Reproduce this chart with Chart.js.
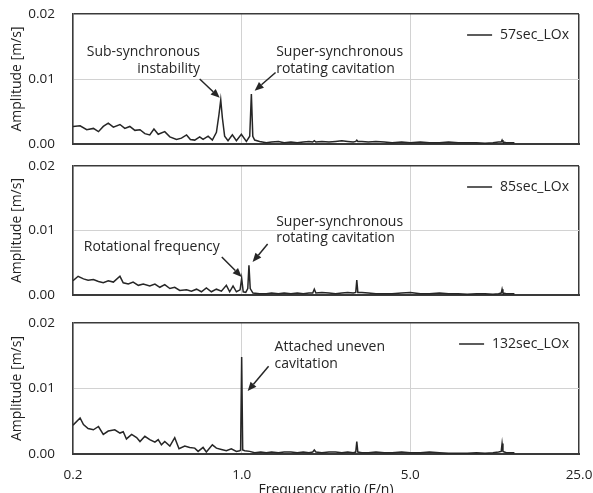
<!DOCTYPE html>
<html>
<head>
<meta charset="utf-8">
<title>Amplitude spectra</title>
<script src="https://cdn.jsdelivr.net/npm/chart.js@4.4.0/dist/chart.umd.min.js"></script>
<style>
    html, body { margin: 0; padding: 0; width: 593px; height: 493px; overflow: hidden; background: #fff; }
    .panel { position: absolute; left: 0; width: 593px; }
    #p1 { top: 0; height: 150px; }
    #p2 { top: 152px; height: 150px; }
    #p3 { top: 306px; height: 200px; }
</style>
</head>
<body>
<div class="panel" id="p1"><canvas id="c1"></canvas></div>
<div class="panel" id="p2"><canvas id="c2"></canvas></div>
<div class="panel" id="p3"><canvas id="c3"></canvas></div>
<script>
// axis ticks
const xTicks = [0.2, 1, 5, 25];
const yTicks = [0, 0.01, 0.02];

// shared high-frequency sampling (F/n)
const freqHigh = [1.33, 1.42, 1.5, 1.6, 1.7, 1.8, 1.9, 1.97, 2.0, 2.03, 2.15, 2.3, 2.45, 2.6, 2.75, 2.9, 2.97, 3.0, 3.03, 3.15, 3.35, 3.6, 3.9, 4.2, 4.6, 5.0, 5.5, 6.0, 6.6, 7.2, 7.9, 8.6, 9.4, 10.2, 11.0, 11.6, 11.9, 12.0, 12.1, 12.5, 13.0, 13.5];

// 57 sec
const freq57 = [0.2, 0.214, 0.228, 0.243, 0.255, 0.267, 0.28, 0.294, 0.313, 0.328, 0.344, 0.361, 0.379, 0.397, 0.416, 0.433, 0.451, 0.48, 0.504, 0.537, 0.563, 0.591, 0.613, 0.639, 0.67, 0.692, 0.726, 0.756, 0.786, 0.805, 0.819, 0.832, 0.85, 0.878, 0.915, 0.951, 0.997, 1.046, 1.08, 1.097, 1.112, 1.132, 1.187, 1.265].concat(freqHigh);
const amp57 = [0.0027, 0.0028, 0.0022, 0.0024, 0.0019, 0.0027, 0.0032, 0.0026, 0.003, 0.0024, 0.0027, 0.0021, 0.0022, 0.0016, 0.0014, 0.0023, 0.0015, 0.0019, 0.0011, 0.0007, 0.0009, 0.0014, 0.0007, 0.0006, 0.0011, 0.0007, 0.0012, 0.0006, 0.0018, 0.0045, 0.0068, 0.004, 0.0012, 0.0005, 0.0014, 0.0005, 0.0015, 0.0004, 0.0012, 0.0077, 0.0012, 0.0006, 0.0004, 0.0002,
    0.0003, 0.0004, 0.0002, 0.0003, 0.0002, 0.0003, 0.0004, 0.0003, 0.0005, 0.0003, 0.0004, 0.0003, 0.0004, 0.0005, 0.0004, 0.0003, 0.0004, 0.0006, 0.0004, 0.0004, 0.0003, 0.0004, 0.0003, 0.0002, 0.0003, 0.0002, 0.0003, 0.0002, 0.0002, 0.0003, 0.0002, 0.0002, 0.0002, 0.0001, 0.0002, 0.0003, 0.0003, 0.0006, 0.0003, 0.0002, 0.0002, 0.0002];

// 85 sec
const freq85 = [0.2, 0.21, 0.221, 0.231, 0.243, 0.255, 0.267, 0.28, 0.294, 0.313, 0.323, 0.339, 0.355, 0.373, 0.391, 0.416, 0.437, 0.458, 0.48, 0.504, 0.528, 0.554, 0.591, 0.619, 0.65, 0.681, 0.714, 0.749, 0.786, 0.824, 0.864, 0.892, 0.921, 0.951, 0.985, 1.0, 1.015, 1.04, 1.06, 1.072, 1.085, 1.114, 1.187, 1.265].concat(freqHigh);
const amp85 = [0.0022, 0.0029, 0.0025, 0.0023, 0.0024, 0.0021, 0.0019, 0.0022, 0.002, 0.0029, 0.0019, 0.0017, 0.002, 0.0015, 0.0017, 0.0014, 0.0017, 0.0012, 0.0016, 0.001, 0.0012, 0.0007, 0.0008, 0.0006, 0.0009, 0.0005, 0.0011, 0.0005, 0.0009, 0.0006, 0.0015, 0.0005, 0.0014, 0.0005, 0.0008, 0.0026, 0.0005, 0.0004, 0.001, 0.0046, 0.001, 0.0003, 0.0002, 0.0002,
    0.0003, 0.0002, 0.0003, 0.0002, 0.0003, 0.0002, 0.0003, 0.0003, 0.0009, 0.0003, 0.0004, 0.0003, 0.0002, 0.0003, 0.0004, 0.0003, 0.0004, 0.0023, 0.0004, 0.0004, 0.0003, 0.0002, 0.0002, 0.0002, 0.0003, 0.0004, 0.0002, 0.0002, 0.0003, 0.0002, 0.0002, 0.0001, 0.0002, 0.0002, 0.0001, 0.0002, 0.0003, 0.0009, 0.0003, 0.0002, 0.0002, 0.0002];

// 132 sec
const freq132 = [0.2, 0.214, 0.221, 0.231, 0.243, 0.255, 0.267, 0.28, 0.298, 0.313, 0.323, 0.333, 0.35, 0.367, 0.379, 0.397, 0.416, 0.437, 0.451, 0.465, 0.48, 0.504, 0.528, 0.55, 0.581, 0.609, 0.639, 0.66, 0.692, 0.714, 0.756, 0.786, 0.824, 0.864, 0.906, 0.951, 0.981, 0.99, 1.0, 1.01, 1.03, 1.08, 1.132, 1.2, 1.265].concat(freqHigh);
const amp132 = [0.0044, 0.0055, 0.0045, 0.0039, 0.0037, 0.0042, 0.003, 0.0035, 0.0037, 0.0032, 0.0034, 0.0023, 0.003, 0.0025, 0.0019, 0.0027, 0.0022, 0.0018, 0.0022, 0.0014, 0.0019, 0.0012, 0.0025, 0.0008, 0.0012, 0.001, 0.0009, 0.0004, 0.001, 0.0003, 0.0014, 0.0009, 0.0007, 0.0005, 0.0008, 0.0004, 0.0005, 0.0006, 0.0148, 0.0006, 0.0005, 0.0004, 0.0002, 0.0003, 0.0002,
    0.0003, 0.0002, 0.0003, 0.0003, 0.0002, 0.0003, 0.0002, 0.0003, 0.0006, 0.0003, 0.0002, 0.0003, 0.0003, 0.0002, 0.0003, 0.0002, 0.0003, 0.0019, 0.0003, 0.0002, 0.0002, 0.0003, 0.0002, 0.0002, 0.0003, 0.0002, 0.0002, 0.0003, 0.0002, 0.0001, 0.0001, 0.0001, 0.0002, 0.0001, 0.0002, 0.0003, 0.0004, 0.0016, 0.0004, 0.0002, 0.0002, 0.0002];

// annotation text (data coords) and arrows (tail -> tip, data coords)
const notes57 = [
    {text: 'Sub-synchronous', f: 0.672, a: 0.0141, align: 'right'},
    {text: 'instability', f: 0.672, a: 0.0116, align: 'right'},
    {text: 'Super-synchronous', f: 1.39, a: 0.0141, align: 'left'},
    {text: 'rotating cavitation', f: 1.39, a: 0.0116, align: 'left'}
];
const arrows57 = [
    {f0: 0.67, a0: 0.0100, f1: 0.811, a1: 0.0071},
    {f0: 1.382, a0: 0.0110, f1: 1.132, a1: 0.0082}
];
const notes85 = [
    {text: 'Rotational frequency', f: 0.811, a: 0.0074, align: 'right'},
    {text: 'Super-synchronous', f: 1.39, a: 0.0113, align: 'left'},
    {text: 'rotating cavitation', f: 1.39, a: 0.0088, align: 'left'}
];
const arrows85 = [
    {f0: 0.827, a0: 0.0059, f1: 1.0, a1: 0.0028},
    {f0: 1.281, a0: 0.0079, f1: 1.11, a1: 0.0051}
];
const notes132 = [
    {text: 'Attached uneven', f: 1.369, a: 0.0163, align: 'left'},
    {text: 'cavitation', f: 1.369, a: 0.0137, align: 'left'}
];
const arrows132 = [
    {f0: 1.293, a0: 0.0134, f1: 1.059, a1: 0.0096}
];

Chart.defaults.font.family = '"Open Sans", sans-serif';
Chart.defaults.color = '#222';

const INK = '#262626';
const GRID = '#d2d2d2';
const FRAME = '#3a3a3a';
const TEXT_FONT = '14px "Open Sans"';

// draws the callouts and a legend entry in the top right of the plot
const notePlugin = {
    id: 'notes',
    afterDatasetsDraw(chart, args, opts) {
        const {ctx, chartArea, scales: {x, y}} = chart;
        ctx.save();
        ctx.fillStyle = INK;
        ctx.strokeStyle = INK;
        ctx.font = TEXT_FONT;
        ctx.textBaseline = 'middle';
        (opts.texts || []).forEach(t => {
            ctx.textAlign = t.align;
            ctx.fillText(t.text, x.getPixelForValue(t.f), y.getPixelForValue(t.a));
        });
        (opts.arrows || []).forEach(a => {
            const x0 = x.getPixelForValue(a.f0), y0 = y.getPixelForValue(a.a0);
            const x1 = x.getPixelForValue(a.f1), y1 = y.getPixelForValue(a.a1);
            const ang = Math.atan2(y1 - y0, x1 - x0);
            const len = 9, half = 3.8;
            const bx = x1 - len * Math.cos(ang), by = y1 - len * Math.sin(ang);
            ctx.lineWidth = 1.5;
            ctx.beginPath();
            ctx.moveTo(x0, y0);
            ctx.lineTo(bx, by);
            ctx.stroke();
            ctx.beginPath();
            ctx.moveTo(x1, y1);
            ctx.lineTo(bx + half * Math.sin(ang), by - half * Math.cos(ang));
            ctx.lineTo(bx - half * Math.sin(ang), by + half * Math.cos(ang));
            ctx.closePath();
            ctx.fill();
        });

        // legend
        const ds = chart.data.datasets[0];
        const ly = chartArea.top + 21;
        const tx = chartArea.right - 10;
        ctx.textAlign = 'right';
        ctx.fillText(ds.label, tx, ly);
        const start = tx - ctx.measureText(ds.label).width - 8;
        ctx.strokeStyle = ds.borderColor;
        ctx.lineWidth = 1.5;
        ctx.beginPath();
        ctx.moveTo(start - 25, ly);
        ctx.lineTo(start, ly);
        ctx.stroke();
        ctx.restore();
    }
};

function makePanel(id, freq, amp, label, texts, arrows, bottom) {
    return new Chart(document.getElementById(id), {
        type: 'line',
        data: {
            datasets: [{
                label: label,
                data: freq.map((f, i) => ({x: f, y: amp[i]})),
                borderColor: INK,
                backgroundColor: INK,
                borderWidth: 1.5,
                pointRadius: 0,
                tension: 0
            }]
        },
        options: {
            responsive: true,
            maintainAspectRatio: false,
            animation: false,
            layout: {padding: bottom ? {top: 17, right: 14, bottom: 8, left: 0} : {top: 14, right: 14, bottom: id === 'c1' ? 6 : 7, left: 0}},
            scales: {
                x: {
                    type: 'logarithmic',
                    min: 0.2,
                    max: 25,
                    afterBuildTicks: s => { s.ticks = xTicks.map(v => ({value: v})); },
                    afterFit: s => {
                        s.height = bottom ? 44 : 0;
                        s.paddingLeft = 0;
                        s.paddingRight = 0;
                    },
                    ticks: {display: bottom, autoSkip: false, maxRotation: 0, padding: 13, font: {size: 13.5}, callback: v => Number(v).toFixed(1)},
                    grid: {
                        drawTicks: false,
                        color: c => (c.tick && c.tick.value === 25) ? FRAME : GRID,
                        lineWidth: c => (c.tick && c.tick.value === 25) ? 1.5 : 1
                    },
                    border: {color: FRAME, width: 2},
                    title: {display: bottom, text: 'Frequency ratio (F/n)', font: {size: 14}, padding: {top: 0, bottom: 0}}
                },
                y: {
                    min: 0,
                    max: 0.02,
                    afterBuildTicks: s => { s.ticks = yTicks.map(v => ({value: v})); },
                    afterFit: s => {
                        s.width = 73;
                        s.paddingTop = 0;
                        s.paddingBottom = 0;
                    },
                    ticks: {padding: 18, font: {size: 13.5}, callback: v => Number(v).toFixed(2)},
                    grid: {
                        drawTicks: false,
                        color: c => (c.tick && c.tick.value === 0.02) ? FRAME : GRID,
                        lineWidth: c => (c.tick && c.tick.value === 0.02) ? 1.5 : 1
                    },
                    border: {color: FRAME, width: 1.5},
                    title: {display: true, text: 'Amplitude [m/s]', font: {size: 14}, padding: {top: 9, bottom: 0}}
                }
            },
            plugins: {
                tooltip: {enabled: false},
                legend: {display: false},
                notes: {texts: texts, arrows: arrows}
            }
        },
        plugins: [notePlugin]
    });
}

makePanel('c1', freq57, amp57, '57sec_LOx', notes57, arrows57, false);
makePanel('c2', freq85, amp85, '85sec_LOx', notes85, arrows85, false);
makePanel('c3', freq132, amp132, '132sec_LOx', notes132, arrows132, true);
</script>
</body>
</html>
